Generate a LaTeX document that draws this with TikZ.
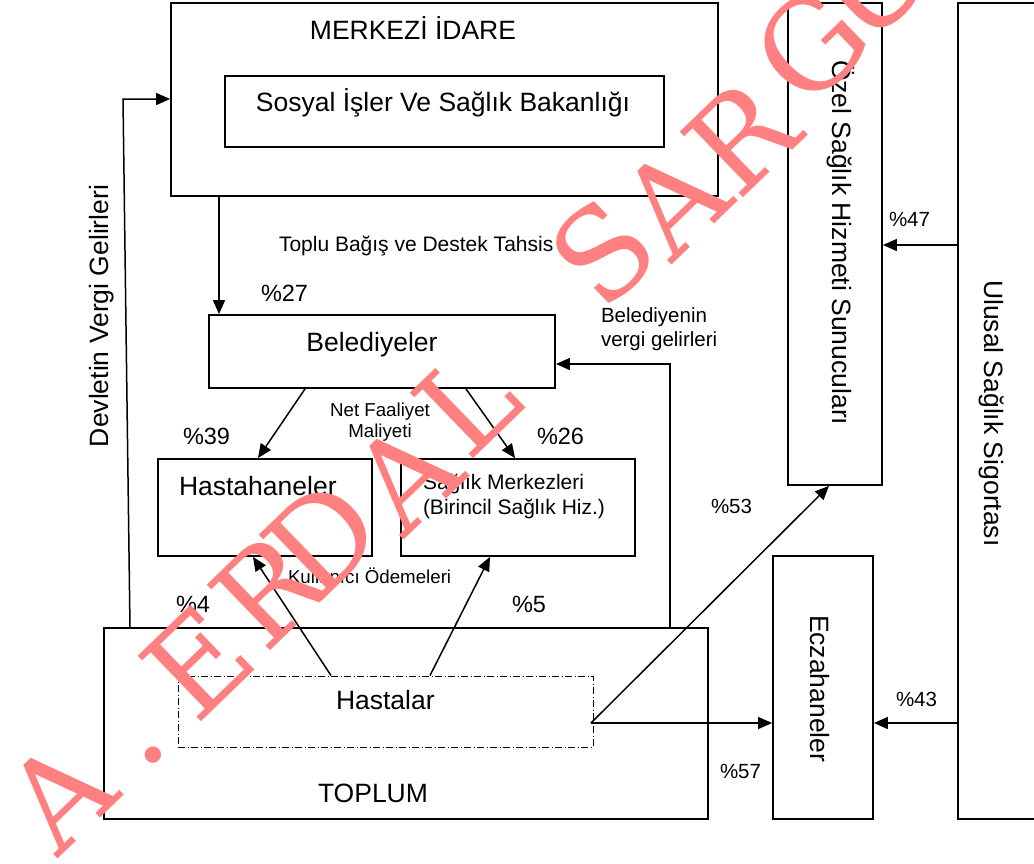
\documentclass[tikz,border=0pt]{standalone}
\usepackage{fontspec}
\setmainfont{Liberation Sans}
\newfontfamily\wmfont{DejaVu Serif}
\usetikzlibrary{arrows.meta}
\definecolor{wmred}{RGB}{255,128,128}
\newcommand\fbig{\fontsize{26.5}{30}\selectfont}
\newcommand\fmid{\fontsize{21}{25}\selectfont}
\newcommand\fsml{\fontsize{18.7}{21}\selectfont}
\newcommand\fpct{\fontsize{23.5}{27}\selectfont}
\newcommand\fpcs{\fontsize{20.5}{24}\selectfont}
\begin{document}
\begin{tikzpicture}[x=1pt,y=-1pt,
  box/.style={draw, line width=1.8pt, inner sep=0pt},
  dbox/.style={draw, line width=1pt, inner sep=0pt, dash pattern=on 7pt off 2.5pt on 1pt off 2.5pt},
  arr/.style={line width=1.5pt, -{Triangle[length=14pt,width=12pt]}},
  lbl/.style={inner sep=0pt, outer sep=0pt},
  wmletter/.style={inner sep=0pt, outer sep=0pt, text=wmred, rotate=44, anchor=center, font=\wmfont\fontsize{125}{125}\selectfont}]
\useasboundingbox (0,0) rectangle (1034,863);
\fill[white] (0,0) rectangle (1034,863);
% boxes
\node[box, minimum width=547pt, minimum height=193pt] (merkez) at (444.5,99.5) {};
\node[box, minimum width=439pt, minimum height=71pt] (sosyal) at (444.5,111.5) {};
\node[box, minimum width=94pt, minimum height=482pt] (ozel) at (835,244) {};
\begin{scope}
\clip (0,0) rectangle (1034,863);
\node[box, minimum width=92pt, minimum height=816pt] (ulusal) at (1004,411) {};
\end{scope}
\node[box, minimum width=346pt, minimum height=73pt] (beled) at (382,351.5) {};
\node[box, minimum width=214pt, minimum height=97pt] (hastane) at (265,507.5) {};
\node[box, minimum width=234pt, minimum height=97pt] (saglik) at (518,507.5) {};
\node[box, minimum width=604pt, minimum height=191pt] (toplum) at (406,723.5) {};
\node[dbox, minimum width=415pt, minimum height=71pt] (hastalar) at (385.5,711.5) {};
\node[box, minimum width=100pt, minimum height=263pt] (eczane) at (823,687.5) {};
% texts in boxes
\node[lbl, anchor=base] (tmerkez) at (413,39) {\fbig MERKEZİ İDARE};
\node[lbl, anchor=base] (tsosyal) at (443,111) {\fbig Sosyal İşler Ve Sağlık Bakanlığı};
\node[lbl, anchor=base] (tbeled) at (372,351) {\fbig Belediyeler};
\node[lbl, anchor=base west] (thastane) at (179,495) {\fbig Hastahaneler};
\node[lbl, anchor=base west] (tsag1) at (423,489) {\fmid Sağlık Merkezleri};
\node[lbl, anchor=base west] (tsag2) at (423,514) {\fmid (Birincil Sağlık Hiz.)};
\node[lbl, anchor=base west] (thastalar) at (336,709) {\fbig Hastalar};
\node[lbl, anchor=base west] (ttoplum) at (318,802) {\fbig TOPLUM};
\node[lbl, anchor=base west, rotate=-90] (tozel) at (832,60) {\fbig Özel Sağlık Hizmeti Sunucuları};
\node[lbl, anchor=base west, rotate=-90] (teczane) at (810,615) {\fbig Eczahaneler};
\node[lbl, anchor=base west, rotate=-90] (tulusal) at (984,280) {\fbig Ulusal Sağlık Sigortası};
\node[lbl, anchor=base west, rotate=90] (tdevlet) at (108,447) {\fbig Devletin Vergi Gelirleri};
% connector labels
\node[lbl, anchor=base west] (ttoplu) at (279,251) {\fmid Toplu Bağış ve Destek Tahsis};
\node[lbl, anchor=base west] (p27) at (261,301) {\fpct \%27};
\node[lbl, anchor=base west] (tbel1) at (601,322) {\fpcs Belediyenin};
\node[lbl, anchor=base west] (tbel2) at (601,346) {\fpcs vergi gelirleri};
\node[lbl, anchor=base] (tnet1) at (380,416) {\fsml Net Faaliyet};
\node[lbl, anchor=base] (tnet2) at (380,437) {\fsml Maliyeti};
\node[lbl, anchor=base west] (p39) at (183,444) {\fpct \%39};
\node[lbl, anchor=base west] (p26) at (537,444) {\fpct \%26};
\node[lbl, anchor=base west] (tkul) at (288,583) {\fsml Kullanıcı Ödemeleri};
\node[lbl, anchor=base west] (p4) at (176,612) {\fpct \%4};
\node[lbl, anchor=base west] (p5) at (512,612) {\fpct \%5};
\node[lbl, anchor=base west] (p53) at (711,513) {\fpcs \%53};
\node[lbl, anchor=base west] (p57) at (720,778) {\fpcs \%57};
\node[lbl, anchor=base west] (p47) at (889,226) {\fpcs \%47};
\node[lbl, anchor=base west] (p43) at (896,706) {\fpcs \%43};
% helper coordinates
\coordinate (dv0) at (130,628);
\coordinate (dv1) at (123,99);
\coordinate (ax) at (219,0);
\coordinate (bh1) at (305,0);
\coordinate (bh2) at (258,0);
\coordinate (bs1) at (466,0);
\coordinate (bs2) at (515,0);
\coordinate (bv) at (670,364);
\coordinate (hh1) at (331,0);
\coordinate (hh2) at (253,0);
\coordinate (hs1) at (430,0);
\coordinate (hs2) at (490,0);
\coordinate (hp) at (591,723);
\coordinate (oz) at (829,0);
\coordinate (uy1) at (0,245);
\coordinate (uy2) at (0,723);
% connectors
\draw[arr] (dv0) -- (dv1) -- (merkez.west |- dv1);
\draw[arr] (merkez.south -| ax) -- (beled.north -| ax);
\draw[arr] (beled.south -| bh1) -- (hastane.north -| bh2);
\draw[arr] (beled.south -| bs1) -- (saglik.north -| bs2);
\draw[arr] (toplum.north -| bv) -- (bv) -- (beled.east |- bv);
\draw[arr] (hastalar.north -| hh1) -- (hastane.south -| hh2);
\draw[arr] (hastalar.north -| hs1) -- (saglik.south -| hs2);
\draw[arr] (hp) -- (eczane.west |- hp);
\draw[arr] (hp) -- (ozel.south -| oz);
\draw[arr] (ulusal.west |- uy1) -- (ozel.east |- uy1);
\draw[arr] (ulusal.west |- uy2) -- (eczane.east |- uy2);
% watermark
\begin{scope}
\clip (0,0) rectangle (1034,863);
\node[wmletter] (wm1) at (59,794) {A};
\node[wmletter] (wm2) at (153,755) {.};
\node[wmletter] (wm3) at (198,662) {E};
\node[wmletter] (wm4) at (268,590) {R};
\node[wmletter] (wm5) at (322,538) {D};
\node[wmletter] (wm6) at (405,475) {A};
\node[wmletter] (wm7) at (467,402) {L};
\node[wmletter] (wm8) at (603,252) {S};
\node[wmletter] (wm9) at (673,200) {A};
\node[wmletter] (wm10) at (741,137) {R};
\node[wmletter] (wm11) at (811,45) {G};
\node[wmletter] (wm12) at (872,-18) {U};
\end{scope}
\end{tikzpicture}
\end{document}
